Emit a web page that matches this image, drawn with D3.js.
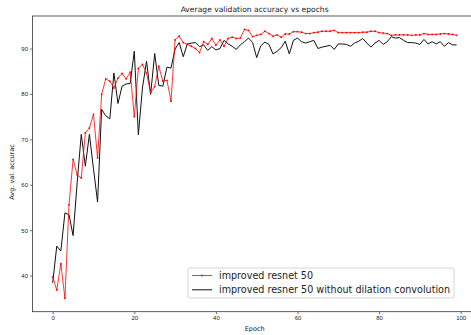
<!DOCTYPE html>
<html>
<head>
<meta charset="utf-8">
<title>Average validation accuracy vs epochs</title>
<style>
  body { margin: 0; background: #fff; }
  svg { display: block; font-family: 'DejaVu Sans', sans-serif; }
  .tick text { fill: #222; }
</style>
</head>
<body>
<div id="chart"></div>
<script src="https://d3js.org/d3.v7.min.js"></script>
<script>

// accuracy per epoch
var improved = [39.7, 36.8, 42.6, 35.0, 55.6, 65.6, 62.2, 61.5, 71.4, 72.5,
  75.5, 65.9, 79.9, 83.3, 82.8, 81.3, 83.5, 84.5, 83.3, 84.8,
  75.0, 85.6, 86.5, 84.6, 80.3, 81.6, 86.1, 82.8, 83.0, 78.4,
  91.9, 92.7, 91.3, 90.9, 90.5, 90.0, 89.1, 91.5, 90.9, 92.2,
  90.7, 91.9, 90.5, 92.2, 92.5, 92.2, 92.3, 94.2, 94.0, 92.6,
  92.9, 93.1, 93.8, 93.3, 92.7, 93.0, 92.5, 93.2, 93.2, 93.7,
  93.7, 93.6, 93.3, 93.3, 93.5, 93.6, 93.8, 93.8, 93.8, 94.0,
  93.5, 93.5, 93.5, 93.5, 93.5, 93.5, 93.6, 93.6, 93.8, 93.8,
  93.5, 93.4, 93.3, 92.9, 93.0, 93.0, 93.0, 93.0, 92.9, 93.0,
  93.0, 93.3, 93.1, 93.1, 93.1, 93.2, 93.3, 93.2, 93.1, 92.9];

var noDilation = [38.4, 46.5, 45.4, 53.8, 53.4, 48.8, 60.5, 71.1, 64.1, 71.1,
  63.5, 56.2, 76.6, 75.2, 74.5, 84.6, 77.9, 81.7, 82.2, 82.3,
  89.4, 71.0, 81.3, 87.2, 79.9, 88.9, 81.9, 81.7, 85.9, 85.7,
  89.9, 91.3, 88.2, 91.0, 91.2, 91.3, 90.4, 90.8, 89.6, 90.4,
  89.7, 90.0, 91.8, 91.0, 90.5, 89.8, 90.8, 91.5, 92.3, 91.3,
  88.0, 90.6, 91.4, 90.9, 88.8, 89.4, 90.2, 91.6, 88.8, 91.8,
  92.3, 91.5, 91.2, 91.5, 91.8, 90.0, 90.3, 90.5, 90.7, 89.8,
  91.0, 91.0, 90.9, 90.5, 91.2, 91.6, 92.2, 91.2, 90.3, 91.2,
  91.8, 90.9, 91.5, 92.6, 92.3, 92.4, 91.8, 91.3, 91.3, 91.2,
  90.9, 92.0, 91.0, 91.5, 91.0, 91.5, 90.5, 91.3, 90.8, 90.8];

var xTicks = [0, 20, 40, 60, 80, 100];
var yTicks = [40, 50, 60, 70, 80, 90];
var seriesNames = ["improved resnet 50", "improved resner 50 without dilation convolution"];

var width = 471, height = 335;
var plot = {left: 32.5, right: 476.8, top: 16, bottom: 311.7};

var svg = d3.select("#chart").append("svg")
    .attr("width", width)
    .attr("height", height);

// matplotlib style 5% padding around the data
var yMin = d3.min(improved.concat(noDilation)),
    yMax = d3.max(improved.concat(noDilation)),
    yPad = (yMax - yMin) * 0.05,
    xPad = 99 * 0.05;

var x = d3.scaleLinear().domain([-xPad, 99 + xPad]).range([plot.left, plot.right]);
var y = d3.scaleLinear().domain([yMin - yPad, yMax + yPad]).range([plot.bottom, plot.top]);

var line = d3.line()
    .x(function(d, i){ return x(i); })
    .y(function(d){ return y(d); });

// black line first, red drawn on top of it
svg.append("path")
    .datum(noDilation)
    .attr("fill", "none")
    .attr("stroke", "#111")
    .attr("stroke-width", 1)
    .attr("d", line);

svg.append("path")
    .datum(improved)
    .attr("fill", "none")
    .attr("stroke", "#ff0000")
    .attr("stroke-width", 0.8)
    .attr("d", line);

svg.append("g")
    .selectAll("circle")
    .data(improved)
    .enter().append("circle")
    .attr("cx", function(d, i){ return x(i); })
    .attr("cy", function(d){ return y(d); })
    .attr("r", 0.9)
    .attr("fill", "#ff0000");

// axes
var xAxis = svg.append("g")
    .attr("transform", "translate(0," + plot.bottom + ")")
    .call(d3.axisBottom(x).tickValues(xTicks).tickSize(2.5).tickPadding(2));
var yAxis = svg.append("g")
    .attr("transform", "translate(" + plot.left + ",0)")
    .call(d3.axisLeft(y).tickValues(yTicks).tickSize(2.5).tickPadding(2));

[xAxis, yAxis].forEach(function(a){
    a.select(".domain").remove();
    a.selectAll(".tick line").attr("stroke", "#333").attr("stroke-width", 0.7);
    a.selectAll(".tick text").style("font-size", "6px").attr("fill", "#222");
});

// frame
svg.append("rect")
    .attr("x", plot.left)
    .attr("y", plot.top)
    .attr("width", plot.right - plot.left)
    .attr("height", plot.bottom - plot.top)
    .attr("fill", "none")
    .attr("stroke", "#333")
    .attr("stroke-width", 0.8);

// title + labels
svg.append("text")
    .attr("x", (plot.left + plot.right) / 2)
    .attr("y", 12)
    .attr("text-anchor", "middle")
    .style("font-size", "7.6px")
    .attr("fill", "#222")
    .text("Average validation accuracy vs epochs");

svg.append("text")
    .attr("x", (plot.left + plot.right) / 2)
    .attr("y", 331)
    .attr("text-anchor", "middle")
    .style("font-size", "6.5px")
    .attr("fill", "#222")
    .text("Epoch");

svg.append("text")
    .attr("transform", "translate(14,172) rotate(-90)")
    .attr("text-anchor", "middle")
    .style("font-size", "6.5px")
    .attr("fill", "#222")
    .text("Avg. val. accurac");

// legend
var legend = svg.append("g").attr("transform", "translate(188,268)");
legend.append("rect")
    .attr("width", 266).attr("height", 30)
    .attr("rx", 2)
    .attr("fill", "#fff").attr("fill-opacity", 0.8)
    .attr("stroke", "#ccc").attr("stroke-width", 0.8);

var rows = legend.selectAll("g.row")
    .data(seriesNames)
    .enter().append("g")
    .attr("class", "row")
    .attr("transform", function(d, i){ return "translate(0," + (7.5 + i * 14.3) + ")"; });

rows.append("line")
    .attr("x1", 4).attr("x2", 24)
    .attr("stroke", function(d, i){ return i === 0 ? "#ff0000" : "#111"; })
    .attr("stroke-width", function(d, i){ return i === 0 ? 0.8 : 1; });
rows.filter(function(d, i){ return i === 0; })
    .append("circle").attr("cx", 14).attr("r", 0.9).attr("fill", "#ff0000");
rows.append("text")
    .attr("x", 31)
    .attr("dy", "0.35em")
    .style("font-size", "9.6px")
    .attr("fill", "#222")
    .text(function(d){ return d; });
</script>
</body>
</html>
